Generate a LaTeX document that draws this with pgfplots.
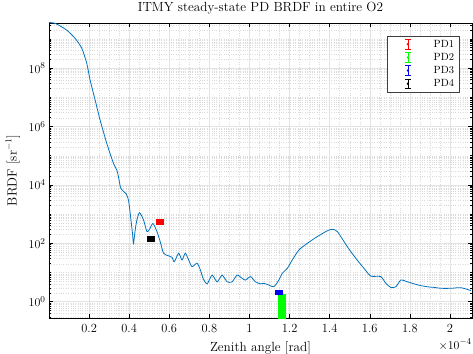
\documentclass[border=0pt]{standalone}
\usepackage{pgfplots}
\pgfplotsset{compat=1.18}

\definecolor{mblue}{rgb}{0,0.447,0.741}

% Legend icon: a small capped error bar with a dot
\pgfplotsset{
  errlegend/.style={
    legend image code/.code={
      \draw[line width=0.6pt]
        (0.5cm,-0.17cm) -- (0.7cm,-0.17cm)
        (0.6cm,-0.17cm) -- (0.6cm,0.17cm)
        (0.5cm,0.17cm) -- (0.7cm,0.17cm);
      \fill (0.6cm,0cm) circle[radius=0.8pt];
      \path (0cm,0cm) (1.43cm,0cm);
    }
  },
  pdbar/.style={
    only marks, mark=none, forget plot,
    error bars/.cd, y dir=both, y explicit,
    error mark=none,
    error bar style={line width=8bp},
  },
}

\begin{document}
\begin{tikzpicture}
\begin{semilogyaxis}[
  scale only axis,
  width=423bp, height=295bp,
  xmin=0, xmax=2.11,
  ymin=0.277, ymax=3.5e9,
  xtick={0.2,0.4,...,2.01},
  xticklabels={0.2,0.4,0.6,0.8,1,1.2,1.4,1.6,1.8,2},
  minor x tick num=3,
  minor x tick style={draw=none},
  ytick={1,1e2,1e4,1e6,1e8},
  minor ytick={0.2,0.3,0.4,0.5,0.6,0.7,0.8,0.9,
    2,3,4,5,6,7,8,9,10,20,30,40,50,60,70,80,90,
    200,300,400,500,600,700,800,900,1e3,
    2e3,3e3,4e3,5e3,6e3,7e3,8e3,9e3,
    2e4,3e4,4e4,5e4,6e4,7e4,8e4,9e4,1e5,
    2e5,3e5,4e5,5e5,6e5,7e5,8e5,9e5,
    2e6,3e6,4e6,5e6,6e6,7e6,8e6,9e6,1e7,
    2e7,3e7,4e7,5e7,6e7,7e7,8e7,9e7,
    2e8,3e8,4e8,5e8,6e8,7e8,8e8,9e8,1e9,
    2e9,3e9},
  tick align=inside,
  xtick pos=both, ytick pos=both,
  major tick length=4bp, minor tick length=2.5bp,
  every tick/.style={black, line width=0.5pt},
  axis line style={line width=0.6pt},
  grid=both,
  major grid style={gray!22, line width=0.5pt},
  minor grid style={gray!28, dotted, line width=0.4pt},
  tick label style={font=\fontsize{12.5}{14}\selectfont},
  xticklabel style={yshift=-3bp},
  title={ITMY steady-state PD BRDF in entire O2},
  title style={font=\fontsize{13.3}{15}\selectfont,
    at={(axis description cs:0.5,1)}, anchor=base, yshift=6bp},
  xlabel={Zenith angle [rad]},
  ylabel={BRDF [sr$^{-1}$]},
  xlabel style={font=\fontsize{13.3}{15}\selectfont,
    at={(axis description cs:0.5,0)}, anchor=base, yshift=-33bp},
  ylabel style={font=\fontsize{13.3}{15}\selectfont, yshift=2bp},
  legend style={at={(0.970,0.957)}, anchor=north east,
    draw=black!75, fill=white, line width=0.6pt,
    cells={anchor=west}, row sep=0.5pt,
    font=\fontsize{10.5}{12}\selectfont},
  clip=true,
]
% BRDF model curve
\addplot[mblue, line width=0.8pt, smooth, tension=0.4, forget plot] coordinates {
(0,3.63e9) (0.025,3.5e9) (0.0465,3.0e9) (0.0885,2.0e9) (0.13,1.05e9)
(0.1635,4.8e8) (0.1885,1.45e8) (0.205,3.9e7) (0.23,8.1e6) (0.255,1.66e6)
(0.2885,2.6e5) (0.3215,5.5e4) (0.3385,3.2e4) (0.3465,1.9e4)
(0.3585,7.6e3) (0.385,4.9e3) (0.3965,3.0e3) (0.405,1.07e3) (0.4165,219)
(0.4215,100) (0.43,288) (0.4385,631) (0.4515,1.12e3) (0.4715,631)
(0.4885,251) (0.5015,302) (0.5185,479) (0.5385,251) (0.555,112)
(0.5715,45.7) (0.5965,37.2) (0.6135,33.1) (0.625,23.4) (0.6465,45.7)
(0.6635,26.9) (0.68,45.7) (0.6965,26.9) (0.7135,15.8) (0.7385,20.9)
(0.755,12.3) (0.7685,6.31) (0.7885,4.07) (0.8135,8.13) (0.8385,4.79)
(0.8635,8.13) (0.8885,4.79) (0.9135,4.79) (0.9385,8.13) (0.9635,6.31)
(0.98,5.50) (1.005,7.24) (1.03,4.79) (1.055,4.07) (1.0715,4.27)
(1.0965,3.72) (1.1215,3.24) (1.1465,5.50) (1.1635,9.33) (1.1885,13.8)
(1.2135,26.9) (1.2465,58.9) (1.2885,100) (1.3385,170) (1.3885,269)
(1.4135,302) (1.4385,251) (1.4885,75.9) (1.53,30.9) (1.5715,13.8)
(1.605,7.59) (1.655,7.24) (1.68,4.27) (1.705,3.09) (1.73,3.24)
(1.755,5.50) (1.7885,4.79) (1.822,4.07) (1.855,3.55) (1.8885,3.24)
(1.9215,3.09) (1.955,2.88) (2.005,2.88) (2.055,3.02) (2.105,2.40)
};
% Photodiode measurements
\addplot[red, pdbar] coordinates {(0.552,535) += (0,155) -= (0,120)};
\addplot[green, pdbar] coordinates {(1.164,0.5) += (0,1.37) -= (0,0.49)};
\addplot[blue, pdbar] coordinates {(1.145,2.0) += (0,0.45) -= (0,0.35)};
\addplot[black, pdbar] coordinates {(0.51,137) += (0,38) -= (0,30)};
\addlegendimage{red, errlegend}
\addlegendentry{PD1}
\addlegendimage{green, errlegend}
\addlegendentry{PD2}
\addlegendimage{blue, errlegend}
\addlegendentry{PD3}
\addlegendimage{black, errlegend}
\addlegendentry{PD4}
\end{semilogyaxis}
\node[anchor=base east, inner sep=0pt, font=\fontsize{12.5}{14}\selectfont]
  at ([yshift=-31bp]current axis.south east) {$\times10^{-4}$};
\pgfresetboundingbox
\path[use as bounding box] ([xshift=-49bp,yshift=-36bp]current axis.south west) rectangle ([xshift=1bp,yshift=23bp]current axis.north east);
\end{tikzpicture}
\end{document}
